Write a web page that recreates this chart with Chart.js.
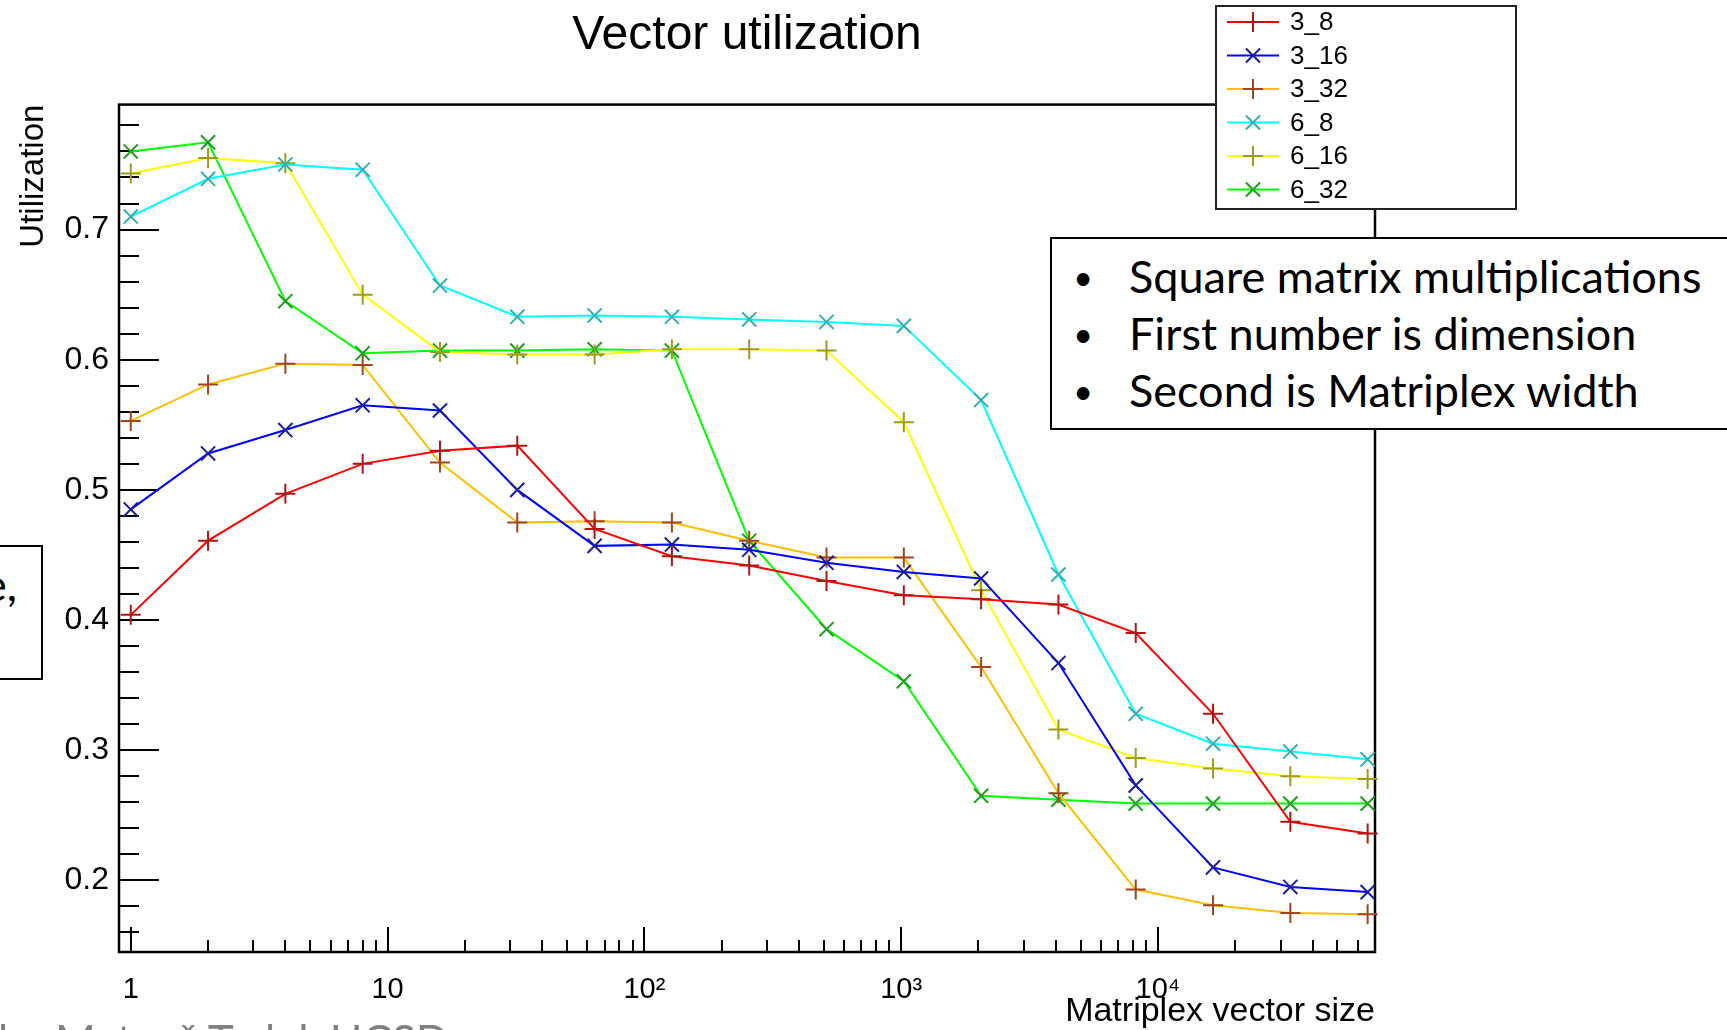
<!DOCTYPE html>
<html lang="en">
<head>
  <meta charset="UTF-8" />
  <title>Vector utilization</title>
  <script src="https://cdn.jsdelivr.net/npm/chart.js"></script>
  <style>
    html, body { margin: 0; padding: 0; background: #fff; }
    body { width: 1727px; height: 1030px; position: relative; overflow: hidden; }
    #chart { position: absolute; left: 0; top: 0; }
    .note {
      position: absolute; background: #fff; border: 2px solid #000; box-sizing: border-box;
      font-family: Lato, "Open Sans", sans-serif; color: #000; font-size: 45px; line-height: 57px;
    }
    #notes { left: 1050px; top: 237px; width: 720px; height: 193px; padding-top: 9px; }
    #notes div { position: relative; padding-left: 77px; white-space: nowrap; }
    #notes div span { position: absolute; left: 21px; width: 20px; text-align: center; font-size: 34px; }
    #side { left: -10px; top: 545px; width: 53px; height: 135px; overflow: visible; }
    #side span { position: absolute; left: -9px; top: 9px; white-space: nowrap; }
    #credit {
      position: absolute; left: -2px; top: 1018px; font-family: Lato, "Open Sans", sans-serif;
      font-size: 44px; line-height: 44px; color: #808080; white-space: nowrap;
    }
  </style>
</head>
<body>

  <canvas id="chart" width="1727" height="1030"></canvas>

  <div class="note" id="side"><span>e,</span></div>

  <div class="note" id="notes">
    <div><span>•</span>Square matrix multiplications</div>
    <div><span>•</span>First number is dimension</div>
    <div><span>•</span>Second is Matriplex width</div>
  </div>

  <div id="credit">by Matevž Tadel, UCSD</div>

  <script>
    // Matriplex vector sizes (powers of two)
    const vectorSizes = [1, 2, 4, 8, 16, 32, 64, 128, 256, 512, 1024, 2048, 4096, 8192, 16384, 32768, 65536];

    // utilization per configuration: dimension_width
    const util_3_8  = [0.404, 0.461, 0.497, 0.520, 0.530, 0.534, 0.470, 0.449, 0.442, 0.430, 0.419, 0.416, 0.412, 0.390, 0.328, 0.245, 0.236];
    const util_3_16 = [0.485, 0.528, 0.546, 0.565, 0.561, 0.500, 0.457, 0.458, 0.454, 0.444, 0.437, 0.432, 0.367, 0.273, 0.210, 0.195, 0.191];
    const util_3_32 = [0.553, 0.581, 0.597, 0.596, 0.521, 0.475, 0.476, 0.475, 0.461, 0.448, 0.448, 0.364, 0.267, 0.193, 0.181, 0.175, 0.174];
    const util_6_8  = [0.710, 0.739, 0.750, 0.746, 0.657, 0.633, 0.634, 0.633, 0.631, 0.629, 0.626, 0.569, 0.435, 0.328, 0.305, 0.299, 0.293];
    const util_6_16 = [0.743, 0.755, 0.751, 0.650, 0.606, 0.604, 0.604, 0.608, 0.608, 0.607, 0.552, 0.423, 0.316, 0.294, 0.286, 0.280, 0.278];
    const util_6_32 = [0.760, 0.767, 0.645, 0.605, 0.607, 0.607, 0.608, 0.607, 0.461, 0.393, 0.353, 0.265, 0.262, 0.259, 0.259, 0.259, 0.259];

    const seriesNames  = ["3_8", "3_16", "3_32", "6_8", "6_16", "6_32"];
    const seriesValues = [util_3_8, util_3_16, util_3_32, util_6_8, util_6_16, util_6_32];
    const lineColors   = ["#ff0000", "#0000ff", "#ffbf00", "#00ffff", "#ffff00", "#00ff00"];
    const markerColors = ["#b01515", "#1c1ca0", "#a0461e", "#33b0b0", "#9c9c1a", "#1e9e1e"];
    const markerStyles = ["cross", "crossRot", "cross", "crossRot", "cross", "crossRot"];

    // axis labels
    const xMajorTicks = [1, 10, 100, 1000, 10000];
    const xTickLabels = ["1", "10", "10²", "10³", "10⁴"];
    const yMajorTicks = [0.2, 0.3, 0.4, 0.5, 0.6, 0.7];

    const xMin = 0.9, xMax = 70000;
    const yMin = 0.145, yMax = 0.796;

    // minor tick positions: 2..9 in each decade, every 0.02 on y
    const xMinorTicks = [];
    xMajorTicks.forEach(d => {
      for (let m = 2; m <= 9; m++) if (d * m < xMax) xMinorTicks.push(d * m);
    });
    const yMinorTicks = [];
    for (let k = 8; k <= 39; k++) if (k % 5 !== 0) yMinorTicks.push(k / 50);

    Chart.defaults.font.family = '"Liberation Sans", Arial, sans-serif';
    Chart.defaults.color = "#000";

    // frame with inward ticks, plus the boxed legend
    const rootFrame = {
      id: "rootFrame",
      beforeDatasetsDraw(chart) {
        const { ctx, chartArea: a, scales: { x, y } } = chart;
        ctx.save();
        ctx.strokeStyle = "#000";
        ctx.lineWidth = 2;
        ctx.beginPath();
        yMinorTicks.forEach(v => {
          const py = Math.round(y.getPixelForValue(v));
          ctx.moveTo(a.left, py); ctx.lineTo(a.left + 20, py);
        });
        yMajorTicks.forEach(v => {
          const py = Math.round(y.getPixelForValue(v));
          ctx.moveTo(a.left, py); ctx.lineTo(a.left + 40, py);
        });
        xMinorTicks.forEach(v => {
          const px = Math.round(x.getPixelForValue(v));
          ctx.moveTo(px, a.bottom); ctx.lineTo(px, a.bottom - 12);
        });
        xMajorTicks.forEach(v => {
          const px = Math.round(x.getPixelForValue(v));
          ctx.moveTo(px, a.bottom); ctx.lineTo(px, a.bottom - 25);
        });
        ctx.stroke();
        ctx.lineWidth = 2.5;
        ctx.strokeRect(a.left, a.top, a.right - a.left, a.bottom - a.top);
        ctx.restore();
      },
      afterDraw(chart) {
        const ctx = chart.ctx;
        const box = { left: 1216, top: 6, right: 1516, bottom: 209 };
        ctx.save();
        ctx.fillStyle = "#fff";
        ctx.fillRect(box.left, box.top, box.right - box.left, box.bottom - box.top);
        ctx.strokeStyle = "#222";
        ctx.lineWidth = 2;
        ctx.strokeRect(box.left, box.top, box.right - box.left, box.bottom - box.top);
        chart.data.datasets.forEach((ds, i) => {
          const cy = 22 + i * 33.5;
          ctx.strokeStyle = ds.borderColor;
          ctx.lineWidth = 2;
          ctx.beginPath();
          ctx.moveTo(1227, cy); ctx.lineTo(1279, cy);
          ctx.stroke();
          ctx.strokeStyle = ds.pointBorderColor;
          Chart.helpers.drawPoint(ctx, { pointStyle: ds.pointStyle, radius: 10, rotation: 0, borderWidth: 2 }, 1253, cy);
          ctx.fillStyle = "#000";
          ctx.font = '26px "Liberation Sans", Arial, sans-serif';
          ctx.textBaseline = "middle";
          ctx.fillText(ds.label, 1290, cy + 1);
        });
        ctx.restore();
      }
    };

    const datasets = seriesNames.map((name, i) => ({
      label: name,
      data: vectorSizes.map((v, j) => ({ x: v, y: seriesValues[i][j] })),
      borderColor: lineColors[i],
      borderWidth: 2,
      pointStyle: markerStyles[i],
      pointRadius: 10,
      pointBorderWidth: 2,
      pointBorderColor: markerColors[i],
      pointBackgroundColor: markerColors[i],
      fill: false,
      tension: 0,
      clip: false
    }));

    new Chart(document.getElementById("chart"), {
      type: "line",
      data: { datasets },
      options: {
        responsive: false,
        animation: false,
        devicePixelRatio: 1,
        events: [],
        layout: { padding: { left: 0, top: 0, right: 352, bottom: 0 } },
        plugins: {
          legend: { display: false },
          tooltip: { enabled: false },
          title: {
            display: true,
            text: "Vector utilization",
            fullSize: false,
            font: { size: 48, weight: "normal" },
            padding: { top: 7, bottom: 40 }
          }
        },
        scales: {
          x: {
            type: "logarithmic",
            min: xMin,
            max: xMax,
            grid: { display: false, drawTicks: false },
            border: { display: false },
            afterBuildTicks: s => { s.ticks = xMajorTicks.map(v => ({ value: v })); },
            afterFit: s => { s.height = 78; },
            ticks: {
              autoSkip: false,
              maxRotation: 0,
              padding: 21,
              font: { size: 29 },
              callback: (v, i) => xTickLabels[i]
            },
            title: {
              display: true,
              text: "Matriplex vector size",
              align: "end",
              font: { size: 34 },
              padding: { top: 0, bottom: -2 }
            }
          },
          y: {
            type: "linear",
            min: yMin,
            max: yMax,
            grid: { display: false, drawTicks: false },
            border: { display: false },
            afterBuildTicks: s => { s.ticks = yMajorTicks.map(v => ({ value: v })); },
            afterFit: s => { s.width = 119; },
            ticks: {
              padding: 10,
              font: { size: 32 },
              callback: v => v.toFixed(1)
            },
            title: {
              display: true,
              text: "Utilization",
              align: "end",
              font: { size: 33 },
              padding: { top: 14, bottom: 0 }
            }
          }
        }
      },
      plugins: [rootFrame]
    });
  </script>

</body>
</html>
